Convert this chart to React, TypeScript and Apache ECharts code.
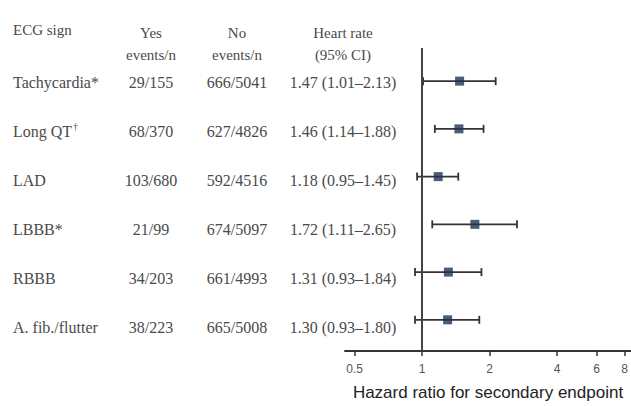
import React, { useEffect, useRef } from "react";
import * as echarts from "echarts";

const signNames = ["Tachycardia", "Long QT", "LAD", "LBBB", "RBBB", "A. fib./flutter"];
const signMarks = ["*", "†", "", "*", "", ""];
const yesEvents = ["29/155", "68/370", "103/680", "21/99", "34/203", "38/223"];
const noEvents = ["666/5041", "627/4826", "592/4516", "674/5097", "661/4993", "665/5008"];
const hr = [1.47, 1.46, 1.18, 1.72, 1.31, 1.3];
const ciLow = [1.01, 1.14, 0.95, 1.11, 0.93, 0.93];
const ciHigh = [2.13, 1.88, 1.45, 2.65, 1.84, 1.8];
const tickLabels = [0.5, 1, 2, 4, 6, 8];

const SERIF = "'Liberation Serif', 'DejaVu Serif', serif";
const SANS = "'Liberation Sans', Arial, sans-serif";
const TXT = "#4a4a4a";

export default function App() {
  const ref = useRef<HTMLDivElement>(null);
  useEffect(() => {
    if (!ref.current) return;
    const chart = echarts.init(ref.current, null, { renderer: "svg" });
    const fmt = (v: number) => v.toFixed(2);
    const hrText = hr.map((h, i) => `${fmt(h)} (${fmt(ciLow[i])}–${fmt(ciHigh[i])})`);
    const tickVals = tickLabels.map((t) => Math.log2(t));
    const yMin = -0.694;
    const yMax = 5.653;

    chart.setOption({
      animation: false,
      grid: [
        { left: 345, width: 286, top: 48, height: 311 },
        { left: 0, width: 420, top: 48, height: 311 },
      ],
      xAxis: [
        {
          type: "value",
          gridIndex: 0,
          min: Math.log2(0.453),
          max: Math.log2(8.55),
          splitLine: { show: false },
          axisLine: { show: true, onZero: false, lineStyle: { color: "#333", width: 2 } },
          axisTick: {
            show: true,
            customValues: tickVals,
            length: 5,
            lineStyle: { color: "#333", width: 1.5 },
          },
          axisLabel: {
            customValues: tickVals,
            margin: 12,
            color: "#555",
            fontSize: 12,
            fontFamily: SANS,
            formatter: (v: number) => {
              let best = tickLabels[0];
              tickLabels.forEach((t) => {
                if (Math.abs(Math.log2(t) - v) < Math.abs(Math.log2(best) - v)) best = t;
              });
              return String(best);
            },
          },
          name: "Hazard ratio for secondary endpoint",
          nameLocation: "middle",
          nameGap: 33,
          nameTextStyle: { color: "#222", fontSize: 17, fontFamily: SANS },
        },
        { type: "value", gridIndex: 1, min: 0, max: 420, show: false },
      ],
      yAxis: [
        { type: "value", gridIndex: 0, min: yMin, max: yMax, inverse: true, show: false },
        { type: "value", gridIndex: 1, min: yMin, max: yMax, inverse: true, show: false },
      ],
      graphic: [
        { type: "text", left: 13, top: 22, style: { text: "ECG sign", font: `15px ${SERIF}`, fill: TXT } },
        { type: "text", x: 151, y: 22, style: { text: "Yes\nevents/n", font: `15px ${SERIF}`, fill: TXT, align: "center", lineHeight: 22 } },
        { type: "text", x: 237, y: 22, style: { text: "No\nevents/n", font: `15px ${SERIF}`, fill: TXT, align: "center", lineHeight: 22 } },
        { type: "text", x: 343, y: 22, style: { text: "Heart rate\n(95% CI)", font: `15px ${SERIF}`, fill: TXT, align: "center", lineHeight: 22 } },
      ],
      series: [
        {
          type: "custom",
          xAxisIndex: 1,
          yAxisIndex: 1,
          data: signNames.map((_, i) => [0, i]),
          encode: { x: 0, y: 1 },
          renderItem: (params: any, api: any) => {
            const i = params.dataIndex;
            const y = api.coord([0, i])[1];
            const cx = (v: number) => api.coord([v, i])[0];
            const base = { font: `16px ${SERIF}`, fill: TXT, verticalAlign: "middle" };
            return {
              type: "group",
              children: [
                {
                  type: "text",
                  x: cx(13),
                  y,
                  style: {
                    ...base,
                    align: "left",
                    text: signMarks[i] === "†" ? `{a|${signNames[i]}}{s|†}` : signNames[i] + signMarks[i],
                    rich: {
                      a: { font: `16px ${SERIF}`, fill: TXT },
                      s: { font: `10px ${SERIF}`, fill: TXT, verticalAlign: "top", padding: [0, 0, 10, 1] },
                    },
                  },
                },
                { type: "text", x: cx(151), y, style: { ...base, align: "center", text: yesEvents[i] } },
                { type: "text", x: cx(237), y, style: { ...base, align: "center", text: noEvents[i] } },
                { type: "text", x: cx(343), y, style: { ...base, align: "center", text: hrText[i] } },
              ],
            };
          },
        },
        {
          type: "custom",
          xAxisIndex: 0,
          yAxisIndex: 0,
          data: hr.map((_, i) => [Math.log2(ciLow[i]), Math.log2(ciHigh[i]), i]),
          encode: { x: [0, 1], y: 2 },
          z: 2,
          renderItem: (params: any, api: any) => {
            const p1 = api.coord([api.value(0), api.value(2)]);
            const p2 = api.coord([api.value(1), api.value(2)]);
            const st = { stroke: "#333", lineWidth: 1.8 };
            const c = 4;
            return {
              type: "group",
              children: [
                { type: "line", shape: { x1: p1[0], y1: p1[1], x2: p2[0], y2: p2[1] }, style: st },
                { type: "line", shape: { x1: p1[0], y1: p1[1] - c, x2: p1[0], y2: p1[1] + c }, style: st },
                { type: "line", shape: { x1: p2[0], y1: p2[1] - c, x2: p2[0], y2: p2[1] + c }, style: st },
              ],
            };
          },
        },
        {
          type: "scatter",
          xAxisIndex: 0,
          yAxisIndex: 0,
          z: 3,
          symbol: "rect",
          symbolSize: 9,
          itemStyle: { color: "#1d3452" },
          data: hr.map((h, i) => [Math.log2(h), i]),
          markLine: {
            silent: true,
            symbol: "none",
            label: { show: false },
            lineStyle: { color: "#444", width: 2, type: "solid" },
            data: [{ xAxis: 0 }],
          },
        },
      ],
    });
    return () => chart.dispose();
  }, []);
  return (
    <div
      ref={ref}
      style={{ position: "fixed", left: 0, top: 0, width: 631, height: 406, background: "#fff" }}
    />
  );
}
